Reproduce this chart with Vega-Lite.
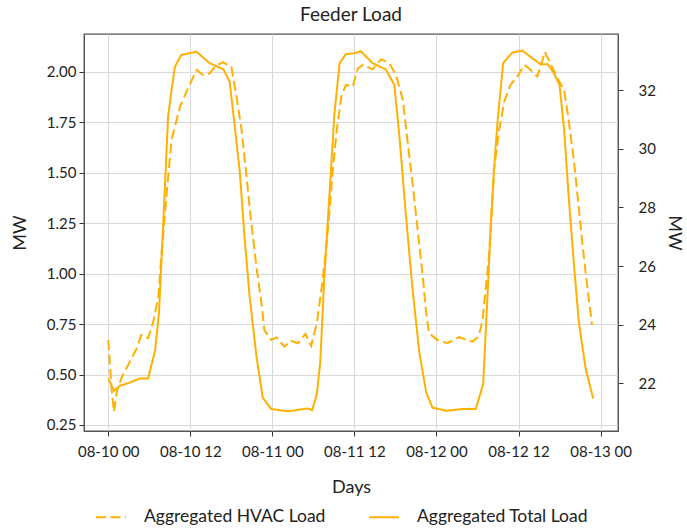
{
  "$schema": "https://vega.github.io/schema/vega-lite/v6.json",
  "width": 534,
  "height": 397,
  "autosize": {"type": "none"},
  "padding": {"left": 84, "top": 34, "right": 69, "bottom": 99},
  "background": "white",
  "title": {"text": "Feeder Load", "fontSize": 19, "font": "Lato", "fontWeight": "normal", "color": "#222222", "offset": 9},
  "config": {
    "font": "Lato",
    "view": {"stroke": "#555555", "strokeWidth": 1.3},
    "axis": {"gridColor": "#d9d9d9", "gridWidth": 1, "domainColor": "#555555", "tickColor": "#333333", "tickSize": 5, "labelFontSize": 15, "labelColor": "#222222", "titleFontSize": 18, "titleFontWeight": "normal", "titleColor": "#222222", "labelFont": "Lato", "titleFont": "Lato"}
  },
  "data": {"values": [
    {"t": "2023-08-10T00:00:00Z", "series": "Aggregated Total Load", "mw": 22.17},
    {"t": "2023-08-10T00:50:00Z", "series": "Aggregated Total Load", "mw": 21.75},
    {"t": "2023-08-10T01:40:00Z", "series": "Aggregated Total Load", "mw": 21.92},
    {"t": "2023-08-10T03:10:00Z", "series": "Aggregated Total Load", "mw": 22.03},
    {"t": "2023-08-10T04:35:00Z", "series": "Aggregated Total Load", "mw": 22.17},
    {"t": "2023-08-10T05:50:00Z", "series": "Aggregated Total Load", "mw": 22.17},
    {"t": "2023-08-10T06:50:00Z", "series": "Aggregated Total Load", "mw": 23.11},
    {"t": "2023-08-10T07:25:00Z", "series": "Aggregated Total Load", "mw": 24.41},
    {"t": "2023-08-10T08:00:00Z", "series": "Aggregated Total Load", "mw": 27.25},
    {"t": "2023-08-10T08:45:00Z", "series": "Aggregated Total Load", "mw": 31.1},
    {"t": "2023-08-10T09:15:00Z", "series": "Aggregated Total Load", "mw": 32.0},
    {"t": "2023-08-10T09:45:00Z", "series": "Aggregated Total Load", "mw": 32.8},
    {"t": "2023-08-10T10:40:00Z", "series": "Aggregated Total Load", "mw": 33.2},
    {"t": "2023-08-10T12:55:00Z", "series": "Aggregated Total Load", "mw": 33.31},
    {"t": "2023-08-10T14:50:00Z", "series": "Aggregated Total Load", "mw": 32.92},
    {"t": "2023-08-10T16:50:00Z", "series": "Aggregated Total Load", "mw": 32.71},
    {"t": "2023-08-10T17:45:00Z", "series": "Aggregated Total Load", "mw": 32.29},
    {"t": "2023-08-10T18:30:00Z", "series": "Aggregated Total Load", "mw": 30.76},
    {"t": "2023-08-10T19:15:00Z", "series": "Aggregated Total Load", "mw": 29.18},
    {"t": "2023-08-10T19:55:00Z", "series": "Aggregated Total Load", "mw": 27.02},
    {"t": "2023-08-10T20:40:00Z", "series": "Aggregated Total Load", "mw": 24.98},
    {"t": "2023-08-10T21:40:00Z", "series": "Aggregated Total Load", "mw": 22.94},
    {"t": "2023-08-10T22:35:00Z", "series": "Aggregated Total Load", "mw": 21.52},
    {"t": "2023-08-10T23:50:00Z", "series": "Aggregated Total Load", "mw": 21.13},
    {"t": "2023-08-11T02:15:00Z", "series": "Aggregated Total Load", "mw": 21.05},
    {"t": "2023-08-11T05:10:00Z", "series": "Aggregated Total Load", "mw": 21.15},
    {"t": "2023-08-11T05:50:00Z", "series": "Aggregated Total Load", "mw": 21.09},
    {"t": "2023-08-11T06:30:00Z", "series": "Aggregated Total Load", "mw": 21.64},
    {"t": "2023-08-11T07:00:00Z", "series": "Aggregated Total Load", "mw": 22.71},
    {"t": "2023-08-11T07:35:00Z", "series": "Aggregated Total Load", "mw": 25.55},
    {"t": "2023-08-11T08:20:00Z", "series": "Aggregated Total Load", "mw": 28.38},
    {"t": "2023-08-11T09:05:00Z", "series": "Aggregated Total Load", "mw": 31.22},
    {"t": "2023-08-11T09:50:00Z", "series": "Aggregated Total Load", "mw": 32.92},
    {"t": "2023-08-11T10:45:00Z", "series": "Aggregated Total Load", "mw": 33.23},
    {"t": "2023-08-11T12:00:00Z", "series": "Aggregated Total Load", "mw": 33.26},
    {"t": "2023-08-11T12:55:00Z", "series": "Aggregated Total Load", "mw": 33.33},
    {"t": "2023-08-11T14:40:00Z", "series": "Aggregated Total Load", "mw": 32.92},
    {"t": "2023-08-11T16:35:00Z", "series": "Aggregated Total Load", "mw": 32.71},
    {"t": "2023-08-11T17:50:00Z", "series": "Aggregated Total Load", "mw": 32.18},
    {"t": "2023-08-11T18:35:00Z", "series": "Aggregated Total Load", "mw": 30.42},
    {"t": "2023-08-11T19:30:00Z", "series": "Aggregated Total Load", "mw": 27.82},
    {"t": "2023-08-11T20:30:00Z", "series": "Aggregated Total Load", "mw": 25.21},
    {"t": "2023-08-11T21:30:00Z", "series": "Aggregated Total Load", "mw": 23.05},
    {"t": "2023-08-11T22:30:00Z", "series": "Aggregated Total Load", "mw": 21.69},
    {"t": "2023-08-11T23:25:00Z", "series": "Aggregated Total Load", "mw": 21.18},
    {"t": "2023-08-12T01:25:00Z", "series": "Aggregated Total Load", "mw": 21.07},
    {"t": "2023-08-12T03:50:00Z", "series": "Aggregated Total Load", "mw": 21.13},
    {"t": "2023-08-12T05:45:00Z", "series": "Aggregated Total Load", "mw": 21.13},
    {"t": "2023-08-12T06:50:00Z", "series": "Aggregated Total Load", "mw": 21.98},
    {"t": "2023-08-12T07:25:00Z", "series": "Aggregated Total Load", "mw": 24.76},
    {"t": "2023-08-12T07:55:00Z", "series": "Aggregated Total Load", "mw": 27.25},
    {"t": "2023-08-12T08:25:00Z", "series": "Aggregated Total Load", "mw": 29.29},
    {"t": "2023-08-12T08:55:00Z", "series": "Aggregated Total Load", "mw": 30.88},
    {"t": "2023-08-12T09:45:00Z", "series": "Aggregated Total Load", "mw": 32.92},
    {"t": "2023-08-12T11:05:00Z", "series": "Aggregated Total Load", "mw": 33.28},
    {"t": "2023-08-12T12:35:00Z", "series": "Aggregated Total Load", "mw": 33.35},
    {"t": "2023-08-12T14:00:00Z", "series": "Aggregated Total Load", "mw": 33.09},
    {"t": "2023-08-12T15:15:00Z", "series": "Aggregated Total Load", "mw": 32.88},
    {"t": "2023-08-12T16:15:00Z", "series": "Aggregated Total Load", "mw": 32.89},
    {"t": "2023-08-12T17:10:00Z", "series": "Aggregated Total Load", "mw": 32.58},
    {"t": "2023-08-12T18:00:00Z", "series": "Aggregated Total Load", "mw": 32.18},
    {"t": "2023-08-12T18:40:00Z", "series": "Aggregated Total Load", "mw": 30.65},
    {"t": "2023-08-12T19:20:00Z", "series": "Aggregated Total Load", "mw": 28.38},
    {"t": "2023-08-12T20:05:00Z", "series": "Aggregated Total Load", "mw": 26.12},
    {"t": "2023-08-12T20:50:00Z", "series": "Aggregated Total Load", "mw": 24.07},
    {"t": "2023-08-12T21:50:00Z", "series": "Aggregated Total Load", "mw": 22.49},
    {"t": "2023-08-12T22:55:00Z", "series": "Aggregated Total Load", "mw": 21.49},

    {"t": "2023-08-10T00:00:00Z", "series": "Aggregated HVAC Load", "mw": 0.671},
    {"t": "2023-08-10T00:30:00Z", "series": "Aggregated HVAC Load", "mw": 0.423},
    {"t": "2023-08-10T00:50:00Z", "series": "Aggregated HVAC Load", "mw": 0.316},
    {"t": "2023-08-10T01:15:00Z", "series": "Aggregated HVAC Load", "mw": 0.415},
    {"t": "2023-08-10T02:00:00Z", "series": "Aggregated HVAC Load", "mw": 0.489},
    {"t": "2023-08-10T03:10:00Z", "series": "Aggregated HVAC Load", "mw": 0.564},
    {"t": "2023-08-10T04:10:00Z", "series": "Aggregated HVAC Load", "mw": 0.63},
    {"t": "2023-08-10T04:50:00Z", "series": "Aggregated HVAC Load", "mw": 0.696},
    {"t": "2023-08-10T05:50:00Z", "series": "Aggregated HVAC Load", "mw": 0.68},
    {"t": "2023-08-10T06:35:00Z", "series": "Aggregated HVAC Load", "mw": 0.762},
    {"t": "2023-08-10T07:20:00Z", "series": "Aggregated HVAC Load", "mw": 0.886},
    {"t": "2023-08-10T07:45:00Z", "series": "Aggregated HVAC Load", "mw": 1.084},
    {"t": "2023-08-10T08:30:00Z", "series": "Aggregated HVAC Load", "mw": 1.38},
    {"t": "2023-08-10T09:15:00Z", "series": "Aggregated HVAC Load", "mw": 1.663},
    {"t": "2023-08-10T10:30:00Z", "series": "Aggregated HVAC Load", "mw": 1.828},
    {"t": "2023-08-10T11:40:00Z", "series": "Aggregated HVAC Load", "mw": 1.919},
    {"t": "2023-08-10T12:55:00Z", "series": "Aggregated HVAC Load", "mw": 2.01},
    {"t": "2023-08-10T13:50:00Z", "series": "Aggregated HVAC Load", "mw": 1.985},
    {"t": "2023-08-10T14:50:00Z", "series": "Aggregated HVAC Load", "mw": 1.993},
    {"t": "2023-08-10T15:35:00Z", "series": "Aggregated HVAC Load", "mw": 2.026},
    {"t": "2023-08-10T16:45:00Z", "series": "Aggregated HVAC Load", "mw": 2.048},
    {"t": "2023-08-10T18:00:00Z", "series": "Aggregated HVAC Load", "mw": 2.026},
    {"t": "2023-08-10T18:45:00Z", "series": "Aggregated HVAC Load", "mw": 1.878},
    {"t": "2023-08-10T19:30:00Z", "series": "Aggregated HVAC Load", "mw": 1.712},
    {"t": "2023-08-10T20:10:00Z", "series": "Aggregated HVAC Load", "mw": 1.498},
    {"t": "2023-08-10T20:55:00Z", "series": "Aggregated HVAC Load", "mw": 1.25},
    {"t": "2023-08-10T21:40:00Z", "series": "Aggregated HVAC Load", "mw": 1.035},
    {"t": "2023-08-10T22:25:00Z", "series": "Aggregated HVAC Load", "mw": 0.853},
    {"t": "2023-08-10T22:50:00Z", "series": "Aggregated HVAC Load", "mw": 0.72},
    {"t": "2023-08-10T23:50:00Z", "series": "Aggregated HVAC Load", "mw": 0.671},
    {"t": "2023-08-11T00:35:00Z", "series": "Aggregated HVAC Load", "mw": 0.684},
    {"t": "2023-08-11T01:45:00Z", "series": "Aggregated HVAC Load", "mw": 0.638},
    {"t": "2023-08-11T02:45:00Z", "series": "Aggregated HVAC Load", "mw": 0.667},
    {"t": "2023-08-11T03:45:00Z", "series": "Aggregated HVAC Load", "mw": 0.655},
    {"t": "2023-08-11T04:50:00Z", "series": "Aggregated HVAC Load", "mw": 0.701},
    {"t": "2023-08-11T05:40:00Z", "series": "Aggregated HVAC Load", "mw": 0.642},
    {"t": "2023-08-11T06:30:00Z", "series": "Aggregated HVAC Load", "mw": 0.754},
    {"t": "2023-08-11T07:10:00Z", "series": "Aggregated HVAC Load", "mw": 0.919},
    {"t": "2023-08-11T07:45:00Z", "series": "Aggregated HVAC Load", "mw": 1.084},
    {"t": "2023-08-11T08:20:00Z", "series": "Aggregated HVAC Load", "mw": 1.3},
    {"t": "2023-08-11T08:50:00Z", "series": "Aggregated HVAC Load", "mw": 1.514},
    {"t": "2023-08-11T09:25:00Z", "series": "Aggregated HVAC Load", "mw": 1.712},
    {"t": "2023-08-11T10:05:00Z", "series": "Aggregated HVAC Load", "mw": 1.878},
    {"t": "2023-08-11T10:45:00Z", "series": "Aggregated HVAC Load", "mw": 1.936},
    {"t": "2023-08-11T11:45:00Z", "series": "Aggregated HVAC Load", "mw": 1.927},
    {"t": "2023-08-11T12:30:00Z", "series": "Aggregated HVAC Load", "mw": 2.018},
    {"t": "2023-08-11T13:15:00Z", "series": "Aggregated HVAC Load", "mw": 2.035},
    {"t": "2023-08-11T14:40:00Z", "series": "Aggregated HVAC Load", "mw": 2.013},
    {"t": "2023-08-11T15:55:00Z", "series": "Aggregated HVAC Load", "mw": 2.063},
    {"t": "2023-08-11T17:05:00Z", "series": "Aggregated HVAC Load", "mw": 2.043},
    {"t": "2023-08-11T18:05:00Z", "series": "Aggregated HVAC Load", "mw": 1.985},
    {"t": "2023-08-11T19:05:00Z", "series": "Aggregated HVAC Load", "mw": 1.861},
    {"t": "2023-08-11T19:45:00Z", "series": "Aggregated HVAC Load", "mw": 1.663},
    {"t": "2023-08-11T20:30:00Z", "series": "Aggregated HVAC Load", "mw": 1.448},
    {"t": "2023-08-11T21:15:00Z", "series": "Aggregated HVAC Load", "mw": 1.217},
    {"t": "2023-08-11T22:00:00Z", "series": "Aggregated HVAC Load", "mw": 0.985},
    {"t": "2023-08-11T22:30:00Z", "series": "Aggregated HVAC Load", "mw": 0.804},
    {"t": "2023-08-11T22:55:00Z", "series": "Aggregated HVAC Load", "mw": 0.704},
    {"t": "2023-08-12T00:10:00Z", "series": "Aggregated HVAC Load", "mw": 0.671},
    {"t": "2023-08-12T01:35:00Z", "series": "Aggregated HVAC Load", "mw": 0.655},
    {"t": "2023-08-12T03:20:00Z", "series": "Aggregated HVAC Load", "mw": 0.685},
    {"t": "2023-08-12T05:15:00Z", "series": "Aggregated HVAC Load", "mw": 0.663},
    {"t": "2023-08-12T06:10:00Z", "series": "Aggregated HVAC Load", "mw": 0.688},
    {"t": "2023-08-12T06:45:00Z", "series": "Aggregated HVAC Load", "mw": 0.77},
    {"t": "2023-08-12T07:20:00Z", "series": "Aggregated HVAC Load", "mw": 0.969},
    {"t": "2023-08-12T07:40:00Z", "series": "Aggregated HVAC Load", "mw": 1.084},
    {"t": "2023-08-12T07:55:00Z", "series": "Aggregated HVAC Load", "mw": 1.217},
    {"t": "2023-08-12T08:25:00Z", "series": "Aggregated HVAC Load", "mw": 1.514},
    {"t": "2023-08-12T09:10:00Z", "series": "Aggregated HVAC Load", "mw": 1.712},
    {"t": "2023-08-12T09:55:00Z", "series": "Aggregated HVAC Load", "mw": 1.853},
    {"t": "2023-08-12T10:50:00Z", "series": "Aggregated HVAC Load", "mw": 1.936},
    {"t": "2023-08-12T11:50:00Z", "series": "Aggregated HVAC Load", "mw": 1.977},
    {"t": "2023-08-12T12:50:00Z", "series": "Aggregated HVAC Load", "mw": 2.035},
    {"t": "2023-08-12T13:30:00Z", "series": "Aggregated HVAC Load", "mw": 2.018},
    {"t": "2023-08-12T14:45:00Z", "series": "Aggregated HVAC Load", "mw": 1.977},
    {"t": "2023-08-12T15:15:00Z", "series": "Aggregated HVAC Load", "mw": 2.026},
    {"t": "2023-08-12T15:50:00Z", "series": "Aggregated HVAC Load", "mw": 2.1},
    {"t": "2023-08-12T16:40:00Z", "series": "Aggregated HVAC Load", "mw": 2.043},
    {"t": "2023-08-12T17:40:00Z", "series": "Aggregated HVAC Load", "mw": 1.969},
    {"t": "2023-08-12T18:40:00Z", "series": "Aggregated HVAC Load", "mw": 1.911},
    {"t": "2023-08-12T19:20:00Z", "series": "Aggregated HVAC Load", "mw": 1.762},
    {"t": "2023-08-12T20:05:00Z", "series": "Aggregated HVAC Load", "mw": 1.564},
    {"t": "2023-08-12T20:45:00Z", "series": "Aggregated HVAC Load", "mw": 1.349},
    {"t": "2023-08-12T21:20:00Z", "series": "Aggregated HVAC Load", "mw": 1.151},
    {"t": "2023-08-12T22:00:00Z", "series": "Aggregated HVAC Load", "mw": 0.952},
    {"t": "2023-08-12T22:45:00Z", "series": "Aggregated HVAC Load", "mw": 0.746}
  ]},
  "encoding": {
    "x": {
      "field": "t", "type": "temporal",
      "scale": {"type": "utc", "domain": [
        {"year": 2023, "month": 8, "date": 9, "hours": 20, "minutes": 27, "utc": true},
        {"year": 2023, "month": 8, "date": 13, "hours": 2, "minutes": 33, "utc": true}
      ]},
      "axis": {
        "title": "Days", "format": "%m-%d %H", "labelPadding": 8, "titlePadding": 19,
        "values": [
          {"year": 2023, "month": 8, "date": 10, "hours": 0, "utc": true},
          {"year": 2023, "month": 8, "date": 10, "hours": 12, "utc": true},
          {"year": 2023, "month": 8, "date": 11, "hours": 0, "utc": true},
          {"year": 2023, "month": 8, "date": 11, "hours": 12, "utc": true},
          {"year": 2023, "month": 8, "date": 12, "hours": 0, "utc": true},
          {"year": 2023, "month": 8, "date": 12, "hours": 12, "utc": true},
          {"year": 2023, "month": 8, "date": 13, "hours": 0, "utc": true}
        ]
      }
    },
    "strokeDash": {
      "field": "series", "type": "nominal",
      "scale": {"domain": ["Aggregated HVAC Load", "Aggregated Total Load"], "range": [[10, 4.5], [1, 0]]},
      "legend": {"title": null, "orient": "none", "legendX": 11, "legendY": 467, "direction": "horizontal", "symbolType": "stroke", "symbolSize": 900, "symbolStrokeWidth": 2, "symbolStrokeColor": "#FFB000", "labelFontSize": 17.5, "labelLimit": 400, "labelColor": "#222222", "columnPadding": 39, "labelOffset": 17}
    }
  },
  "layer": [
    {
      "transform": [{"filter": "datum.series == 'Aggregated HVAC Load'"}],
      "mark": {"type": "line", "color": "#FFB000", "strokeWidth": 2},
      "encoding": {
        "y": {
          "field": "mw", "type": "quantitative",
          "scale": {"domain": [0.22, 2.188], "nice": false, "zero": false},
          "axis": {"title": "MW", "orient": "left", "values": [0.25, 0.5, 0.75, 1.0, 1.25, 1.5, 1.75, 2.0], "format": ".2f", "labelPadding": 3, "titlePadding": 17}
        }
      }
    },
    {
      "transform": [{"filter": "datum.series == 'Aggregated Total Load'"}],
      "mark": {"type": "line", "color": "#FFB000", "strokeWidth": 2},
      "encoding": {
        "y": {
          "field": "mw", "type": "quantitative",
          "scale": {"domain": [20.38, 33.915], "nice": false, "zero": false},
          "axis": {"title": "MW", "orient": "right", "grid": false, "values": [22, 24, 26, 28, 30, 32], "labelPadding": 15, "titlePadding": 9}
        }
      }
    }
  ],
  "resolve": {"scale": {"y": "independent"}}
}
